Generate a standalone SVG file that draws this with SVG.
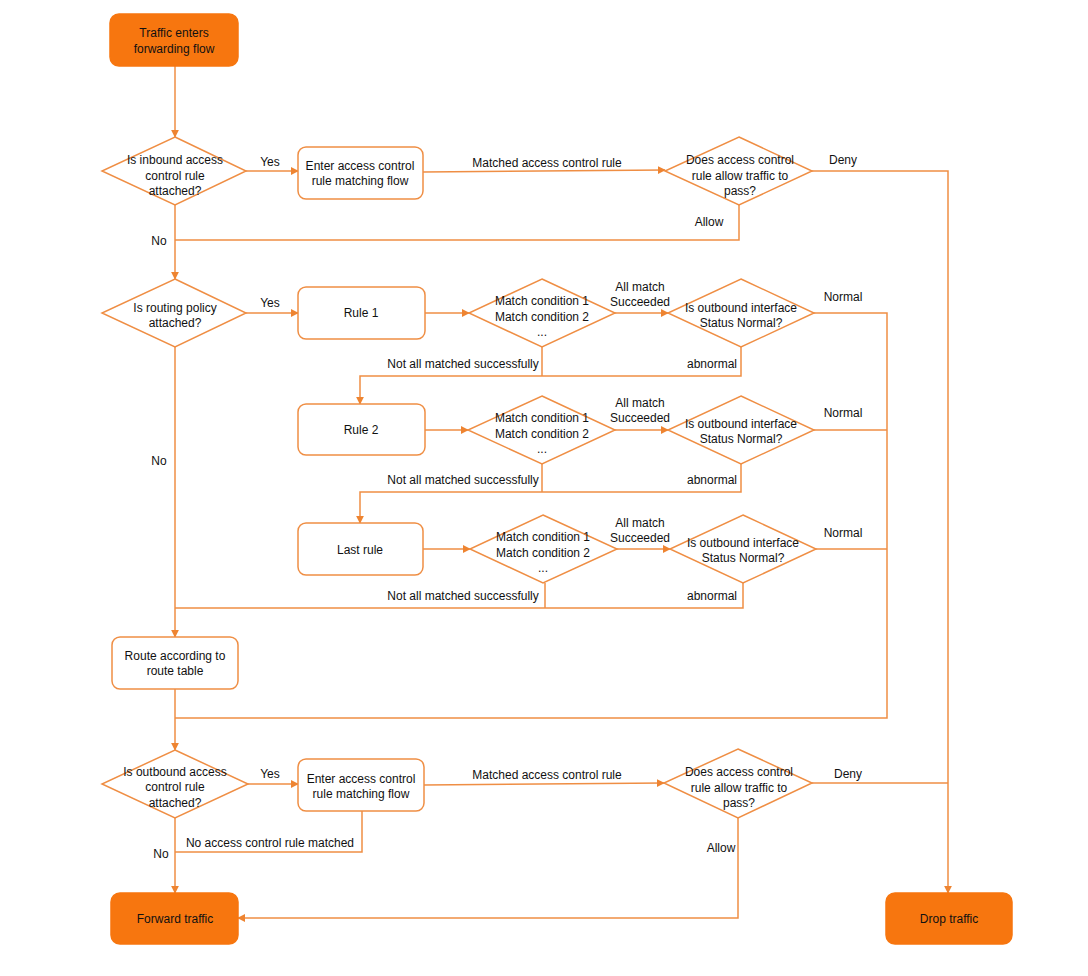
<svg xmlns="http://www.w3.org/2000/svg" width="1088" height="976" viewBox="0 0 1088 976">
<defs>
<marker id="ah" viewBox="0 0 10 10" refX="9" refY="5" markerWidth="8" markerHeight="8" markerUnits="userSpaceOnUse" orient="auto">
<path d="M0,0 L10,5 L0,10 z" fill="#EE8431"/>
</marker>
<style>
.ln{fill:none;stroke:#EF8E44;stroke-width:1.5}
.ar{fill:none;stroke:#EF8E44;stroke-width:1.5;marker-end:url(#ah)}
.bx{fill:#FFFFFF;stroke:#EF8E44;stroke-width:1.5}
.tm{fill:#F7760F;stroke:#F7760F;stroke-width:1.5}
.dm{fill:#FFFFFF;stroke:#EF8E44;stroke-width:1.5}
text{font-family:"Liberation Sans",Arial,sans-serif;font-size:13.5px;fill:#111111;text-anchor:middle;transform-box:fill-box;transform-origin:center;transform:scaleX(0.89)}
</style>
</defs>
<rect width="1088" height="976" fill="#FFFFFF"/>

<g id="connectors">
<path class="ar" d="M175,66 V137"/>
<path class="ar" d="M246,171 H298"/>
<path class="ar" d="M423,172 L665,170"/>
<path class="ar" d="M812,171 H948 V893"/>
<path class="ln" d="M739,205 V240 H175"/>
<path class="ar" d="M175,205 V279"/>
<path class="ar" d="M246,313 H298"/>
<path class="ar" d="M425,313 H469"/>
<path class="ar" d="M615,313 H668"/>
<path class="ln" d="M814,313 H887 V718 H175"/>
<path class="ln" d="M542,347 V376"/>
<path class="ar" d="M741,347 V376 H360 V404"/>
<path class="ar" d="M425,430 H468"/>
<path class="ar" d="M615,430 H668"/>
<path class="ln" d="M814,430 H887"/>
<path class="ln" d="M542,464 V492"/>
<path class="ar" d="M741,464 V492 H360 V523"/>
<path class="ar" d="M423,549 H470"/>
<path class="ar" d="M617,549 H670"/>
<path class="ln" d="M816,549 H887"/>
<path class="ln" d="M545,583 V608"/>
<path class="ln" d="M743,583 V608 H175"/>
<path class="ar" d="M175,347 V637"/>
<path class="ar" d="M175,689 V750"/>
<path class="ar" d="M248,784 H298"/>
<path class="ar" d="M424,785 L664,783"/>
<path class="ln" d="M812,783 H948"/>
<path class="ar" d="M738,818 V918 H238"/>
<path class="ln" d="M362,811 V852 H175"/>
<path class="ar" d="M175,818 V893"/>
</g>

<g id="labels">
<text x="270" y="166">Yes</text>
<text x="547" y="167">Matched access control rule</text>
<text x="843" y="164">Deny</text>
<text x="709" y="226">Allow</text>
<text x="159" y="245">No</text>
<text x="270" y="307">Yes</text>
<text x="640" y="291">All match<tspan x="640" dy="15.5">Succeeded</tspan></text>
<text x="843" y="301">Normal</text>
<text x="463" y="368">Not all matched successfully</text>
<text x="712" y="368">abnormal</text>
<text x="640" y="407">All match<tspan x="640" dy="15.5">Succeeded</tspan></text>
<text x="843" y="417">Normal</text>
<text x="463" y="484">Not all matched successfully</text>
<text x="712" y="484">abnormal</text>
<text x="640" y="527">All match<tspan x="640" dy="15.5">Succeeded</tspan></text>
<text x="843" y="537">Normal</text>
<text x="159" y="465">No</text>
<text x="463" y="600">Not all matched successfully</text>
<text x="712" y="600">abnormal</text>
<text x="270" y="778">Yes</text>
<text x="547" y="779">Matched access control rule</text>
<text x="848" y="778">Deny</text>
<text x="721" y="852">Allow</text>
<text x="270" y="847">No access control rule matched</text>
<text x="161" y="858">No</text>
</g>

<g id="start"><rect class="tm" x="110" y="14" width="128" height="52" rx="9"/><text x="174" y="37.5">Traffic enters<tspan x="174" dy="15.5">forwarding flow</tspan></text></g>
<g id="d-inbound"><polygon class="dm" points="175,137 246,171 175,205 102,171"/><text x="175" y="164.5">Is inbound access<tspan x="175" dy="15.5">control rule</tspan><tspan x="175" dy="15.5">attached?</tspan></text></g>
<g id="acl-in"><rect class="bx" x="298" y="147" width="125" height="52" rx="8"/><text x="360" y="170">Enter access control<tspan x="360" dy="15.5">rule matching flow</tspan></text></g>
<g id="d-allow-in"><polygon class="dm" points="739,137 812,171 739,205 665,171"/><text x="740" y="164.5">Does access control<tspan x="740" dy="15.5">rule allow traffic to</tspan><tspan x="740" dy="15.5">pass?</tspan></text></g>
<g id="d-policy"><polygon class="dm" points="175,279 246,313 175,347 102,313"/><text x="175" y="312">Is routing policy<tspan x="175" dy="15.5">attached?</tspan></text></g>
<g id="rule1"><rect class="bx" x="298" y="287" width="127" height="52" rx="8"/><text x="361" y="317">Rule 1</text></g>
<g id="m1"><polygon class="dm" points="542,279 615,313 542,347 469,313"/><text x="542" y="305.5">Match condition 1<tspan x="542" dy="15.5">Match condition 2</tspan><tspan x="542" dy="15.5">...</tspan></text></g>
<g id="o1"><polygon class="dm" points="741,279 814,313 741,347 668,313"/><text x="741" y="312">Is outbound interface<tspan x="741" dy="15.5">Status Normal?</tspan></text></g>
<g id="rule2"><rect class="bx" x="298" y="404" width="127" height="51" rx="8"/><text x="361" y="434">Rule 2</text></g>
<g id="m2"><polygon class="dm" points="542,396 615,430 542,464 468,430"/><text x="542" y="422.5">Match condition 1<tspan x="542" dy="15.5">Match condition 2</tspan><tspan x="542" dy="15.5">...</tspan></text></g>
<g id="o2"><polygon class="dm" points="741,396 814,430 741,464 668,430"/><text x="741" y="428">Is outbound interface<tspan x="741" dy="15.5">Status Normal?</tspan></text></g>
<g id="rule3"><rect class="bx" x="298" y="523" width="125" height="52" rx="8"/><text x="360" y="554">Last rule</text></g>
<g id="m3"><polygon class="dm" points="543,515 617,549 543,583 470,549"/><text x="543" y="541.5">Match condition 1<tspan x="543" dy="15.5">Match condition 2</tspan><tspan x="543" dy="15.5">...</tspan></text></g>
<g id="o3"><polygon class="dm" points="743,515 816,549 743,583 670,549"/><text x="743" y="547">Is outbound interface<tspan x="743" dy="15.5">Status Normal?</tspan></text></g>
<g id="route"><rect class="bx" x="112" y="637" width="126" height="52" rx="8"/><text x="175" y="660">Route according to<tspan x="175" dy="15.5">route table</tspan></text></g>
<g id="d-outbound"><polygon class="dm" points="175,750 248,784 175,818 102,784"/><text x="175" y="776">Is outbound access<tspan x="175" dy="15.5">control rule</tspan><tspan x="175" dy="15.5">attached?</tspan></text></g>
<g id="acl-out"><rect class="bx" x="298" y="759" width="126" height="52" rx="8"/><text x="361" y="783">Enter access control<tspan x="361" dy="15.5">rule matching flow</tspan></text></g>
<g id="d-allow-out"><polygon class="dm" points="738,749 812,783 738,818 664,783"/><text x="739" y="776.5">Does access control<tspan x="739" dy="15.5">rule allow traffic to</tspan><tspan x="739" dy="15.5">pass?</tspan></text></g>
<g id="forward"><rect class="tm" x="111" y="893" width="127" height="51" rx="9"/><text x="175" y="923">Forward traffic</text></g>
<g id="drop"><rect class="tm" x="886" y="893" width="126" height="51" rx="9"/><text x="949" y="923">Drop traffic</text></g>
</svg>
